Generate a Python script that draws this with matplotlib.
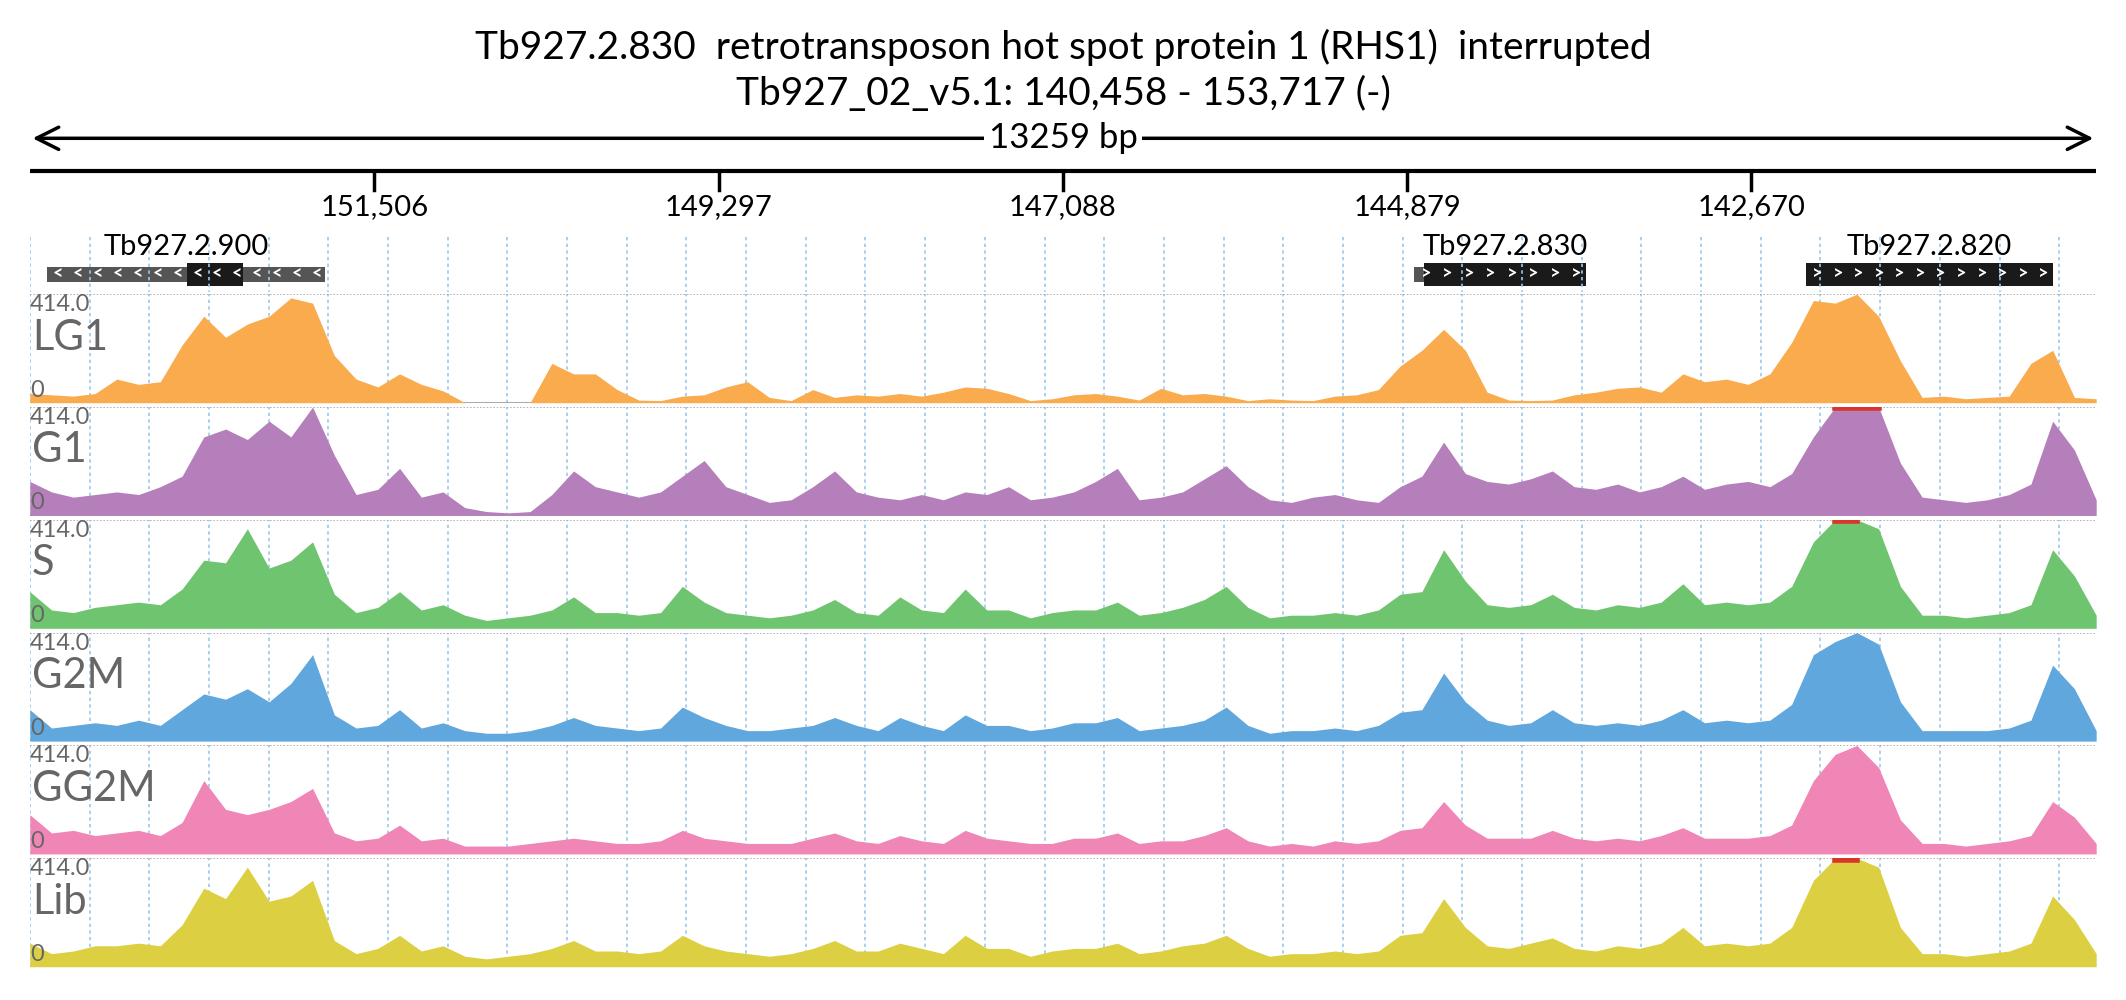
import numpy as np
import matplotlib
matplotlib.use("Agg")
import matplotlib.pyplot as plt
from matplotlib.patches import Rectangle

plt.rcParams["font.family"] = ["Lato", "DejaVu Sans"]

START, END = 153717, 140458
TITLE1 = "Tb927.2.830  retrotransposon hot spot protein 1 (RHS1)  interrupted"
TITLE2 = "Tb927_02_v5.1: 140,458 - 153,717 (-)"
TICKS = [151506, 149297, 147088, 144879, 142670]
YMAX = 414.0

# genes: name, utr_start, utr_end, cds_start, cds_end, strand
GENES = [
    ("Tb927.2.900", 153604, 151820, 152709, 152348, "<"),
    ("Tb927.2.830", 144834, 143729, 144773, 143729, ">"),
    ("Tb927.2.820", 142320, 140736, 142320, 140736, ">"),
]

TRACK_NAMES = ["LG1", "G1", "S", "G2M", "GG2M", "Lib"]
TRACK_COLORS = ["#f9ab4d", "#b47fba", "#6fc46f", "#5fa7dc", "#ef86b6", "#dcd042"]

lg1 = [35, 30, 25, 35, 90, 70, 80, 220, 330, 250, 300, 330, 400, 380, 180, 90,
       60, 110, 70, 45, 0, 0, 0, 0, 150, 110, 110, 50, 10, 8, 25, 30,
       60, 80, 20, 8, 50, 20, 30, 25, 35, 25, 40, 60, 55, 35, 8, 15,
       30, 35, 25, 10, 55, 30, 35, 25, 8, 15, 10, 8, 25, 30, 50, 140,
       200, 280, 200, 40, 10, 8, 10, 30, 40, 55, 60, 40, 110, 80, 90, 70,
       110, 230, 390, 380, 414, 330, 160, 20, 25, 15, 20, 25, 150, 200, 20, 15]
g1 = [130, 90, 70, 80, 90, 80, 110, 150, 300, 330, 290, 360, 300, 414, 230, 80,
      100, 180, 70, 90, 30, 15, 10, 15, 80, 170, 110, 90, 70, 90, 150, 210,
      110, 80, 50, 60, 110, 170, 90, 70, 60, 80, 60, 90, 80, 110, 60, 70,
      90, 130, 180, 60, 70, 90, 140, 190, 110, 60, 50, 70, 80, 60, 50, 110,
      150, 280, 160, 130, 120, 140, 170, 110, 100, 120, 90, 110, 150, 100, 120, 130,
      110, 160, 300, 414, 414, 414, 200, 70, 60, 50, 60, 80, 120, 360, 250, 60]
s = [140, 70, 60, 80, 90, 100, 90, 150, 260, 250, 380, 230, 260, 330, 130, 60,
     80, 140, 70, 90, 50, 30, 40, 50, 70, 120, 60, 60, 50, 60, 160, 100,
     60, 50, 40, 50, 70, 110, 60, 50, 120, 70, 60, 150, 70, 70, 40, 60,
     70, 70, 100, 50, 60, 80, 110, 160, 80, 40, 50, 50, 60, 50, 70, 130,
     140, 300, 180, 90, 80, 90, 130, 80, 70, 90, 80, 100, 170, 90, 100, 90,
     100, 160, 330, 414, 414, 380, 160, 50, 50, 40, 50, 60, 90, 300, 200, 50]
g2m = [120, 50, 60, 70, 60, 80, 60, 120, 180, 160, 200, 150, 220, 330, 100, 50,
       60, 120, 50, 70, 40, 30, 30, 40, 60, 90, 60, 50, 40, 50, 130, 90,
       60, 40, 40, 50, 60, 90, 60, 40, 90, 60, 40, 100, 60, 60, 40, 50,
       70, 70, 90, 40, 50, 60, 80, 130, 60, 30, 40, 40, 50, 40, 60, 110,
       120, 260, 150, 80, 60, 70, 120, 70, 60, 70, 60, 80, 120, 70, 80, 70,
       80, 140, 330, 380, 414, 370, 150, 40, 40, 40, 40, 50, 80, 290, 200, 40]
gg2m = [150, 80, 90, 70, 80, 90, 70, 120, 280, 170, 150, 170, 200, 250, 80, 50,
        60, 110, 50, 60, 30, 30, 30, 40, 50, 60, 50, 40, 40, 50, 90, 60,
        50, 40, 40, 40, 60, 80, 50, 40, 70, 50, 40, 90, 60, 50, 40, 40,
        60, 60, 80, 40, 50, 50, 70, 100, 50, 30, 40, 30, 50, 40, 50, 90,
        100, 200, 110, 60, 60, 60, 90, 60, 50, 60, 50, 70, 100, 60, 60, 60,
        70, 110, 280, 380, 414, 330, 130, 40, 40, 30, 40, 50, 70, 200, 140, 40]
lib = [90, 50, 60, 80, 80, 90, 80, 160, 300, 260, 380, 250, 270, 330, 100, 50,
       70, 120, 60, 80, 40, 30, 40, 50, 70, 100, 60, 60, 50, 60, 120, 80,
       60, 50, 40, 50, 70, 100, 60, 60, 90, 70, 50, 120, 70, 70, 40, 60,
       70, 70, 90, 50, 60, 80, 90, 120, 70, 40, 50, 50, 60, 50, 60, 120,
       130, 260, 150, 80, 70, 90, 110, 70, 60, 80, 70, 90, 150, 80, 90, 80,
       90, 150, 330, 414, 414, 380, 150, 50, 50, 40, 50, 60, 90, 270, 180, 50]
TRACKS = [lg1, g1, s, g2m, gg2m, lib]

W, H = 2126, 1000
K = 2126 / 1568  # layout was measured on a 1568-wide view
X0, X1 = 22 * K, 1546 * K


def px_axes(fig, x0, y0, x1, y1):
    return fig.add_axes([x0 / W, 1 - y1 / H, (x1 - x0) / W, (y1 - y0) / H])


fig = plt.figure(figsize=(W / 100, H / 100), dpi=100)
grid_x = np.arange(START, END, -383)
mid = (X0 + X1) / 2

# overlay in pixel coordinates
over = fig.add_axes([0, 0, 1, 1])
over.set_xlim(0, W)
over.set_ylim(H, 0)
over.axis("off")
over.text(mid, 35 * K, TITLE1, ha="center", va="center", fontsize=28)
over.text(mid, 69 * K, TITLE2, ha="center", va="center", fontsize=28)
over.annotate("", xy=(X0, 102 * K), xytext=(X1, 102 * K),
              arrowprops=dict(arrowstyle="<->", lw=2.5, color="black", mutation_scale=40))
over.text(mid, 102 * K, "13259 bp", ha="center", va="center", fontsize=25,
          bbox=dict(facecolor="white", edgecolor="none", pad=3))

# header: ruler and genes
hdr = px_axes(fig, X0, 120 * K, X1, 215 * K)
hdr.set_xlim(START, END)
hdr.set_ylim(95, 0)
hdr.axis("off")
hdr.axhline(6, color="black", lw=3)
for t in TICKS:
    hdr.plot([t, t], [6, 20], color="black", lw=2.5)
    hdr.text(t, 33, f"{t:,}", ha="center", va="center", fontsize=21)
for g in grid_x:
    hdr.plot([g, g], [55, 95], color="#9cc8ea", lw=1.2, ls=(0, (2, 2)))
for name, u0, u1, c0, c1, strand in GENES:
    hdr.add_patch(Rectangle((u1, 77), u0 - u1, 11, facecolor="#555555", edgecolor="none"))
    hdr.add_patch(Rectangle((c1, 74), c0 - c1, 17, facecolor="#1a1a1a", edgecolor="none"))
    n = int((u0 - u1) / 125)
    for k in range(n):
        hdr.text(u0 - (k + 0.55) * (u0 - u1) / n, 82, strand, ha="center", va="center",
                 fontsize=13, color="white", fontweight="bold")
    hdr.text((c0 + c1) / 2 if name != "Tb927.2.900" else (u0 + u1) / 2, 62, name,
             ha="center", va="center", fontsize=21)

# coverage tracks
pos = np.linspace(START, END, len(lg1))
for i, (name, col, vals) in enumerate(zip(TRACK_NAMES, TRACK_COLORS, TRACKS)):
    top = (217 + 83.2 * i) * K
    ax = px_axes(fig, X0, top, X1, top + 80 * K)
    ax.set_xlim(START, END)
    ax.set_ylim(0, YMAX)
    ax.axis("off")
    for g in grid_x:
        ax.axvline(g, color="#9cc8ea", lw=1.2, ls=(0, (2, 2)), zorder=0)
    v = np.array(vals, dtype=float)
    ax.fill_between(pos, 0, v, color=col, lw=0, zorder=2)
    clip = np.where(v >= YMAX, YMAX - 5, np.nan)
    ax.plot(pos, clip, color="#d9352a", lw=4, zorder=3)
    ax.axhline(YMAX, color="#aaaaaa", lw=1.2, ls=(0, (1, 1)), zorder=1)
    ax.axhline(0, color="#999999", lw=1.2, zorder=1)
    ax.text(0.0, 1.0, "414.0", transform=ax.transAxes, ha="left", va="top",
            fontsize=17, color="#666666", zorder=4)
    ax.text(0.001, 0.6, name, transform=ax.transAxes, ha="left", va="center",
            fontsize=30, color="#666666", zorder=4)
    ax.text(0.0, 0.02, "0", transform=ax.transAxes, ha="left", va="bottom",
            fontsize=17, color="#666666", zorder=4)

fig.savefig("out.png", dpi=100)
